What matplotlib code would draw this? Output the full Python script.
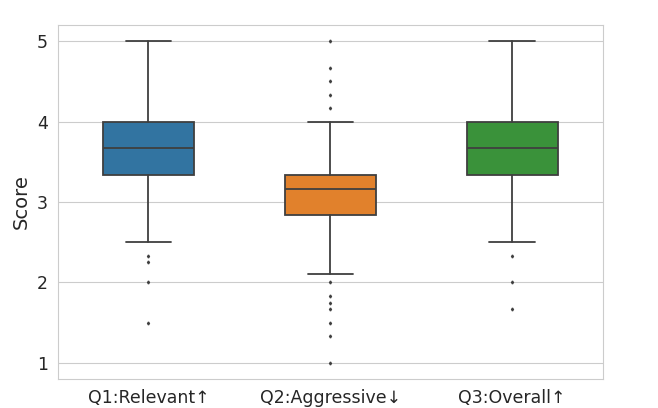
import matplotlib
matplotlib.use("Agg")
import matplotlib.pyplot as plt
import seaborn as sns

# kategorie i statystyki pudełek
categories = ["Q1:Relevant\u2191", "Q2:Aggressive\u2193", "Q3:Overall\u2191"]
medians = [3.667, 3.167, 3.667]
q1_vals = [3.333, 2.833, 3.333]
q3_vals = [4.0, 3.333, 4.0]
whisker_low = [2.5, 2.111, 2.5]
whisker_high = [5.0, 4.0, 5.0]
outliers = [
    [2.333, 2.25, 2.0, 1.5],
    [5.0, 4.667, 4.5, 4.333, 4.167, 2.0, 1.833, 1.75, 1.667, 1.5, 1.333, 1.0],
    [2.333, 2.0, 1.667],
]
colors = ["#3274a1", "#e1812c", "#3a923a"]

sns.set_style("whitegrid")

fig = plt.figure(figsize=(6.58, 4.08), dpi=100)
ax = fig.add_axes([0.0874, 0.0711, 0.829, 0.8676])

stats = []
for i, name in enumerate(categories):
    stats.append({
        "label": name,
        "med": medians[i],
        "q1": q1_vals[i],
        "q3": q3_vals[i],
        "whislo": whisker_low[i],
        "whishi": whisker_high[i],
        "fliers": outliers[i],
    })

edge = "#3f3f3f"
bp = ax.bxp(
    stats,
    positions=range(len(categories)),
    widths=0.5,
    patch_artist=True,
    boxprops=dict(edgecolor=edge, linewidth=1.3),
    medianprops=dict(color=edge, linewidth=1.3),
    whiskerprops=dict(color=edge, linewidth=1.3),
    capprops=dict(color=edge, linewidth=1.3),
    flierprops=dict(marker="d", markersize=1.5, markerfacecolor=edge,
                    markeredgecolor=edge),
)
for patch, c in zip(bp["boxes"], colors):
    patch.set_facecolor(c)

ax.set_xlim(-0.5, 2.5)
ax.set_ylim(0.8, 5.2)
ax.set_yticks([1, 2, 3, 4, 5])
ax.set_xticks(range(len(categories)))
ax.set_xticklabels(categories)
ax.tick_params(labelsize=12.5, colors="#262626")
ax.set_ylabel("Score", fontsize=14, color="#262626")
ax.grid(axis="x", visible=False)

fig.savefig("out.png", dpi=100)
